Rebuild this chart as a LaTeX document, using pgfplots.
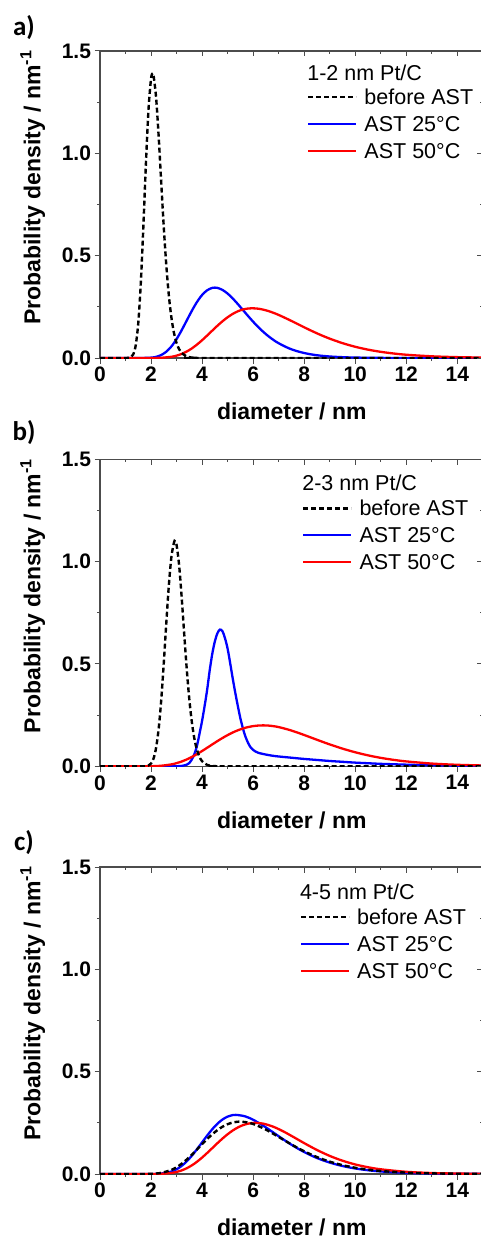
\documentclass[border=0pt]{standalone}
\usepackage{pgfplots}
\pgfplotsset{compat=1.18}
\usepackage{fontspec}
\setmainfont{Liberation Sans}
\newfontfamily\panelfam{Carlito}
\newcommand{\tickfont}{\fontsize{21pt}{24pt}\selectfont\bfseries}
\newcommand{\labfont}{\fontsize{23pt}{27pt}\selectfont\bfseries}
\newcommand{\legfont}{\fontsize{21.5pt}{25pt}\selectfont}
\newcommand{\panfont}{\panelfam\fontsize{27pt}{32pt}\selectfont\bfseries}

\pgfplotsset{
  common/.style={scale only axis, width=382.8pt, height=307pt,
    xmin=0, xmax=15, ymin=0, ymax=1.5, anchor=north west,
    xtick={0,2,...,14}, ytick={0,0.5,1,1.5},
    minor x tick num=1, minor y tick num=1,
    tick style={black!70, line width=1pt},
    major tick length=5.5pt, minor tick length=3pt},
  mainax/.style={common,
    axis line style={black!70, line width=1.2pt},
    tick align=outside, xtick pos=left, ytick pos=left,
    /pgf/number format/assume math mode=true,
    xticklabel style={font=\tickfont},
    yticklabel style={font=\tickfont, /pgf/number format/.cd, fixed, fixed zerofill, precision=1},
    xlabel={diameter / nm}, ylabel={Probability density / nm\textsuperscript{-1}},
    xlabel style={font=\labfont, at={(axis description cs:0.501,-0.175)}, anchor=center},
    ylabel style={font=\labfont, at={(axis description cs:-0.176,0.555)}, anchor=center},
    legend cell align=left,
    legend image code/.code={\draw[##1] (0pt,2pt) -- (48pt,2pt); \path (55pt,0pt);},
    legend style={draw=none, fill=none, font=\legfont, row sep=6pt, inner sep=0pt, outer sep=0pt,
      nodes={inner sep=0pt, text height=16pt, text depth=5pt}, anchor=north west}},
  innerax/.style={common, axis line style={draw=none},
    tick align=inside, xtick pos=right, ytick pos=right,
    xticklabels={}, yticklabels={}},
  bl/.style={black, line width=2.4pt, dash pattern=on 5pt off 3pt},
  bu/.style={blue, line width=2.3pt},
  rd/.style={red, line width=2.3pt}
}

\begin{document}
\begin{tikzpicture}
% ---------------- panel a ----------------
\begin{axis}[mainax, at={(100pt,-51pt)}, legend style={at={(rel axis cs:0.541,0.878)}}]
\addlegendimage{bl}\addlegendentry{before AST}
\addlegendimage{bu}\addlegendentry{AST 25°C}
\addlegendimage{rd}\addlegendentry{AST 50°C}
\addplot[bu, smooth, forget plot] coordinates {(0,0) (1.5,0) (2.0,0.0018) (2.2,0.0057) (2.4,0.0146) (2.6,0.031) (2.8,0.0568) (3.0,0.0923) (3.2,0.1358) (3.4,0.1835) (3.6,0.2309) (3.8,0.2737) (4.0,0.3078) (4.2,0.3311) (4.4,0.3426) (4.5,0.344) (4.6,0.3427) (4.8,0.3327) (5.0,0.3148) (5.2,0.291) (5.4,0.2637) (5.6,0.2346) (5.8,0.2055) (6.0,0.1774) (6.2,0.1513) (6.4,0.1275) (6.6,0.1064) (6.8,0.088) (7.0,0.0722) (7.4,0.0475) (7.8,0.0306) (8.2,0.0193) (8.6,0.012) (9.0,0.0074) (9.5,0.004) (10,0.0021) (11,0.0006) (12,0.0001) (15,0)};
\addplot[rd, smooth, forget plot] coordinates {(0,0) (1.5,0) (2.0,0.0001) (2.4,0.0011) (2.8,0.006) (3.0,0.0115) (3.2,0.0199) (3.4,0.0317) (3.6,0.0469) (3.8,0.0655) (4.0,0.0868) (4.2,0.110) (4.4,0.1339) (4.6,0.1575) (4.8,0.1795) (5.0,0.199) (5.2,0.2154) (5.4,0.2282) (5.6,0.237) (5.8,0.2418) (5.96,0.243) (6.2,0.2409) (6.4,0.2362) (6.6,0.2293) (6.8,0.2206) (7.0,0.2105) (7.4,0.1873) (7.8,0.1626) (8.2,0.138) (8.6,0.1151) (9.0,0.0946) (9.5,0.0727) (10,0.0549) (10.5,0.0409) (11,0.0302) (11.5,0.0221) (12,0.016) (13,0.0083) (14,0.0042) (15,0.0021)};
\addplot[bl, smooth, forget plot] coordinates {(0,0) (1.0,0) (1.2,0.0032) (1.3,0.0169) (1.4,0.0624) (1.5,0.171) (1.6,0.368) (1.7,0.645) (1.8,0.952) (1.9,1.213) (2.0,1.365) (2.06,1.39) (2.1,1.379) (2.2,1.270) (2.3,1.080) (2.4,0.855) (2.5,0.637) (2.6,0.450) (2.7,0.303) (2.8,0.196) (2.9,0.122) (3.0,0.073) (3.1,0.043) (3.2,0.0245) (3.4,0.0075) (3.6,0.0021) (3.8,0.0005) (4.0,0) (15,0)};
\node[anchor=west, font=\legfont, inner sep=0pt] at (rel axis cs:0.541,0.928) {1-2 nm Pt/C};
\end{axis}
\begin{axis}[innerax, at={(100pt,-51pt)}]
\end{axis}
% ---------------- panel b ----------------
\begin{axis}[mainax, at={(100pt,-459.3pt)}, legend style={at={(rel axis cs:0.528,0.868)}}]
\addlegendimage{bl}\addlegendentry{before AST}
\addlegendimage{bu}\addlegendentry{AST 25°C}
\addlegendimage{rd}\addlegendentry{AST 50°C}
\addplot[bu, smooth, forget plot] coordinates {(0,0) (2.8,0) (3.0,0.0005) (3.2,0.002) (3.4,0.008) (3.5,0.016) (3.6,0.034) (3.7,0.06) (3.8,0.10) (3.9,0.16) (4.0,0.222) (4.1,0.295) (4.2,0.375) (4.3,0.47) (4.4,0.55) (4.5,0.61) (4.6,0.65) (4.7,0.668) (4.8,0.66) (4.9,0.625) (5.0,0.575) (5.1,0.505) (5.2,0.43) (5.3,0.36) (5.4,0.295) (5.5,0.235) (5.6,0.185) (5.7,0.145) (5.8,0.115) (5.9,0.093) (6.0,0.08) (6.1,0.072) (6.2,0.066) (6.4,0.06) (6.6,0.055) (6.8,0.051) (7.0,0.048) (7.5,0.042) (8.0,0.036) (8.5,0.031) (9.0,0.026) (9.5,0.022) (10,0.018) (10.5,0.015) (11,0.012) (11.5,0.01) (12,0.008) (13,0.005) (14,0.003) (15,0.002)};
\addplot[rd, smooth, forget plot] coordinates {(0,0) (1.5,0) (2.0,0.0005) (2.4,0.0028) (2.8,0.0095) (3.0,0.0155) (3.2,0.0235) (3.4,0.0336) (3.6,0.0458) (3.8,0.0596) (4.0,0.0747) (4.2,0.0907) (4.4,0.107) (4.6,0.1231) (4.8,0.1383) (5.0,0.1524) (5.2,0.1651) (5.4,0.1759) (5.6,0.1847) (5.8,0.1916) (6.0,0.1963) (6.2,0.1991) (6.4,0.2) (6.6,0.199) (6.8,0.1961) (7.0,0.1916) (7.4,0.1786) (7.8,0.1621) (8.2,0.1438) (8.6,0.1251) (9.0,0.1071) (9.5,0.0865) (10,0.0686) (10.5,0.0536) (11,0.0413) (11.5,0.0316) (12,0.0239) (13,0.0134) (14,0.0074) (15,0.004)};
\addplot[bl, smooth, forget plot] coordinates {(0,0) (1.6,0) (1.8,0.0009) (1.9,0.0039) (2.0,0.0136) (2.1,0.0386) (2.2,0.0916) (2.3,0.185) (2.4,0.325) (2.5,0.506) (2.6,0.704) (2.7,0.888) (2.8,1.025) (2.9,1.094) (2.94,1.10) (3.0,1.082) (3.1,0.983) (3.2,0.826) (3.3,0.646) (3.4,0.474) (3.5,0.327) (3.6,0.215) (3.7,0.134) (3.8,0.080) (3.9,0.046) (4.0,0.025) (4.2,0.0069) (4.4,0.0017) (4.6,0.0003) (5,0) (15,0)};
\node[anchor=west, font=\legfont, inner sep=0pt] at (rel axis cs:0.528,0.923) {2-3 nm Pt/C};
\end{axis}
\begin{axis}[innerax, at={(100pt,-459.3pt)}]
\end{axis}
% ---------------- panel c ----------------
\begin{axis}[mainax, at={(100pt,-867pt)}, legend style={at={(rel axis cs:0.522,0.865)}}]
\addlegendimage{bl}\addlegendentry{before AST}
\addlegendimage{bu}\addlegendentry{AST 25°C}
\addlegendimage{rd}\addlegendentry{AST 50°C}
\addplot[bu, smooth, forget plot] coordinates {(0,0) (1.5,0) (2.0,0.0002) (2.4,0.0022) (2.8,0.0122) (3.0,0.0231) (3.2,0.0396) (3.4,0.0619) (3.6,0.0894) (3.8,0.121) (4.0,0.1546) (4.2,0.1881) (4.4,0.219) (4.6,0.2456) (4.8,0.2664) (5.0,0.2805) (5.2,0.2878) (5.32,0.289) (5.6,0.2845) (5.8,0.2765) (6.0,0.2652) (6.4,0.2359) (6.8,0.202) (7.2,0.1677) (7.6,0.1357) (8.0,0.1075) (8.5,0.0783) (9.0,0.0559) (9.5,0.0392) (10,0.0271) (10.5,0.0185) (11,0.0125) (12,0.0057) (13,0.0025) (14,0.0011) (15,0.0005)};
\addplot[rd, smooth, forget plot] coordinates {(0,0) (2.0,0) (2.4,0.001) (2.8,0.0052) (3.0,0.0101) (3.2,0.0176) (3.4,0.0283) (3.6,0.0424) (3.8,0.0599) (4.0,0.0803) (4.2,0.1029) (4.4,0.1266) (4.6,0.1505) (4.8,0.1733) (5.0,0.1943) (5.2,0.2125) (5.4,0.2274) (5.6,0.2386) (5.8,0.246) (6.0,0.2496) (6.1,0.25) (6.4,0.2461) (6.8,0.2306) (7.2,0.2071) (7.6,0.1795) (8.0,0.151) (8.5,0.1175) (9.0,0.0886) (9.5,0.0651) (10,0.0468) (10.5,0.0331) (11,0.0231) (12,0.0108) (13,0.0049) (14,0.0022) (15,0.001)};
\addplot[bl, smooth, forget plot] coordinates {(0,0) (1.5,0) (2.0,0.0009) (2.4,0.0056) (2.8,0.0203) (3.0,0.0333) (3.2,0.0502) (3.4,0.0708) (3.6,0.0944) (3.8,0.1198) (4.0,0.1458) (4.2,0.171) (4.4,0.1941) (4.6,0.2144) (4.8,0.231) (5.0,0.2434) (5.2,0.2516) (5.4,0.2555) (5.5,0.256) (5.8,0.2517) (6.0,0.2447) (6.4,0.2233) (6.8,0.1959) (7.2,0.1663) (7.6,0.1375) (8.0,0.1111) (8.5,0.0829) (9.0,0.0605) (9.5,0.0433) (10,0.0306) (10.5,0.0213) (11,0.0147) (12,0.0069) (13,0.0031) (14,0.0014) (15,0.0006)};
\node[anchor=west, font=\legfont, inner sep=0pt] at (rel axis cs:0.522,0.920) {4-5 nm Pt/C};
\end{axis}
\begin{axis}[innerax, at={(100pt,-867pt)}]
\end{axis}
% panel letters
\node[font=\panfont, anchor=center] at (24pt,-28pt) {a)};
\node[font=\panfont, anchor=center] at (24pt,-433pt) {b)};
\node[font=\panfont, anchor=center] at (24pt,-843pt) {c)};
\pgfresetboundingbox
\useasboundingbox (0pt,0pt) rectangle (480pt,-1241pt);
\end{tikzpicture}
\end{document}
